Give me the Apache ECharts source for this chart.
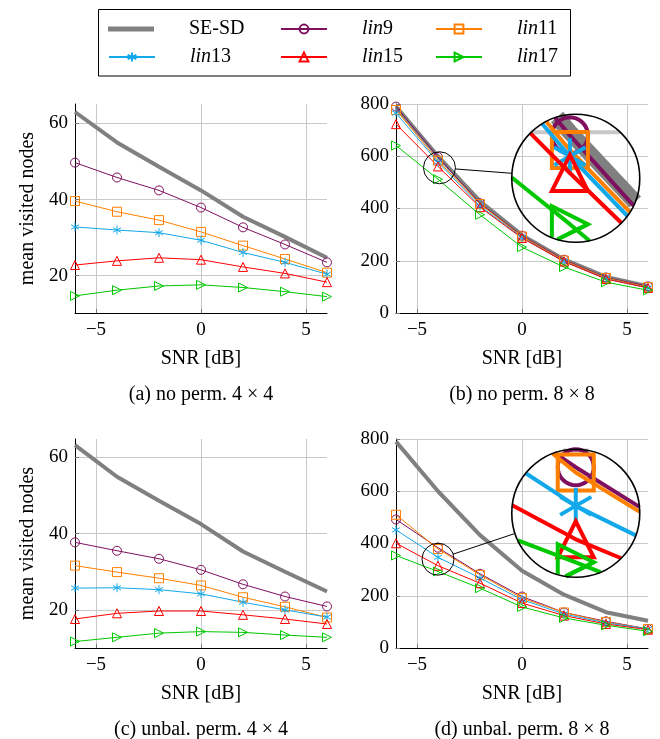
<!DOCTYPE html>
<html><head><meta charset="utf-8">
<script src="https://cdn.jsdelivr.net/npm/echarts@6/dist/echarts.min.js"></script>
<style>html,body{margin:0;padding:0;background:#fff}#c{width:660px;height:739px}</style>
</head><body><div id="c"></div>
<script>
// ---------------- data ----------------
const snr = [-6, -4, -2, 0, 2, 4, 6];
const seriesNames = ['SE-SD', 'lin9', 'lin11', 'lin13', 'lin15', 'lin17'];
const xTicks = [-5, 0, 5];
const yTicks4 = [20, 40, 60];
const yTicks8 = [0, 200, 400, 600, 800];
const captions = ['(a) no perm. 4 \u00d7 4', '(b) no perm. 8 \u00d7 8', '(c) unbal. perm. 4 \u00d7 4', '(d) unbal. perm. 8 \u00d7 8'];

// (a) no perm. 4x4
const a_SESD  = [63.0, 55.0, 48.6, 42.4, 35.5, 30.2, 24.7];
const a_lin9  = [49.7, 45.8, 42.4, 37.9, 32.7, 28.2, 23.5];
const a_lin11 = [39.6, 36.8, 34.6, 31.5, 27.9, 24.4, 20.8];
const a_lin13 = [32.8, 32.0, 31.3, 29.3, 26.1, 23.5, 20.4];
const a_lin15 = [22.8, 23.9, 24.7, 24.2, 22.3, 20.6, 18.3];
const a_lin17 = [14.7, 16.2, 17.3, 17.6, 16.9, 15.8, 14.5];
// (b) no perm. 8x8
const b_SESD  = [790, 600, 428, 298, 205, 138, 103];
const b_lin9  = [790, 597, 420, 296, 204, 136, 102];
const b_lin11 = [777, 583, 417, 293, 201, 134, 99];
const b_lin13 = [765, 577, 410, 289, 197, 131, 96];
const b_lin15 = [723, 561, 405, 287, 197, 130, 96];
const b_lin17 = [641, 512, 376, 252, 176, 118, 87];
// (c) unbal. perm. 4x4
const c_SESD  = [63.2, 54.9, 48.6, 42.5, 35.3, 30.0, 24.8];
const c_lin9  = [37.7, 35.5, 33.4, 30.5, 26.7, 23.5, 20.9];
const c_lin11 = [31.6, 29.9, 28.3, 26.4, 23.3, 20.8, 18.0];
const c_lin13 = [25.7, 25.8, 25.3, 24.2, 22.0, 20.0, 18.1];
const c_lin15 = [17.6, 19.1, 19.7, 19.7, 18.7, 17.6, 16.3];
const c_lin17 = [11.7, 12.8, 13.9, 14.3, 14.1, 13.4, 12.8];
// (d) unbal. perm. 8x8
const d_SESD  = [790, 600, 432, 296, 204, 137, 104];
const d_lin9  = [492, 384, 284, 197, 136, 102, 73];
const d_lin11 = [510, 379, 280, 191, 136, 99, 73];
const d_lin13 = [452, 347, 268, 185, 130, 96, 73];
const d_lin15 = [401, 315, 248, 172, 124, 92, 70];
const d_lin17 = [354, 293, 229, 157, 115, 87, 64];

// ---------------- styles / layout ----------------
const FONT = '"Liberation Serif", "DejaVu Serif", serif';
const colors = ['#808080', '#7f1060', '#ff8000', '#12a8ea', '#ff0000', '#00c800'];
const widths = [4, 1, 1, 1, 1, 1];
const ASTER = 'path://M0,-1L0,1M-0.866,-0.5L0.866,0.5M-0.866,0.5L0.866,-0.5';
const symbols = ['none', 'circle', 'rect', ASTER, 'triangle', 'triangle'];
const symRot = [0, 0, 0, 0, 0, -90];
const SYM = 9;
const GRIDC = '#c8c8c8';

const grids = [
  {left: 75, top: 104, width: 252, height: 209},
  {left: 396, top: 104, width: 252, height: 209},
  {left: 75, top: 439, width: 252, height: 209},
  {left: 396, top: 439, width: 252, height: 209}
];
const yRanges = [[10.2, 65.1], [0, 800], [10.0, 64.8], [0, 800]];
const panelData = [
  [a_SESD, a_lin9, a_lin11, a_lin13, a_lin15, a_lin17],
  [b_SESD, b_lin9, b_lin11, b_lin13, b_lin15, b_lin17],
  [c_SESD, c_lin9, c_lin11, c_lin13, c_lin15, c_lin17],
  [d_SESD, d_lin9, d_lin11, d_lin13, d_lin15, d_lin17]
];
// spy: small circle centre (data coords) -> magnified circle centre (data coords)
const spies = {1: {from: [-3.93, 556], to: [2.56, 516]}, 3: {from: [-4.0, 340], to: [2.56, 516]}};
const SPY_R = 16, SPY_K = 4;

const fmtX = v => (v < 0 ? '\u2212' + (-v) : String(v));

const xAxes = grids.map((g, i) => ({
  gridIndex: i, type: 'value', min: -6, max: 6,
  name: 'SNR [dB]', nameLocation: 'middle', nameGap: 36,
  nameTextStyle: {fontFamily: FONT, fontSize: 20, color: '#000'},
  axisLine: {show: true, onZero: false, lineStyle: {color: '#000', width: 1}},
  axisTick: {show: true, inside: true, length: 4, customValues: xTicks, lineStyle: {color: '#777'}},
  axisLabel: {customValues: xTicks, formatter: fmtX, fontFamily: FONT, fontSize: 19, color: '#000', margin: 8},
  splitLine: {show: true, lineStyle: {color: GRIDC, width: 1}}
}));
const yAxes = grids.map((g, i) => {
  const t = (i % 2 === 0) ? yTicks4 : yTicks8;
  return {
    gridIndex: i, type: 'value', min: yRanges[i][0], max: yRanges[i][1],
    name: (i % 2 === 0) ? 'mean visited nodes' : '', nameLocation: 'middle', nameGap: 37,
    nameTextStyle: {fontFamily: FONT, fontSize: 20, color: '#000'},
    axisLine: {show: true, onZero: false, lineStyle: {color: '#000', width: 1}},
    axisTick: {show: true, inside: true, length: 4, customValues: t, lineStyle: {color: '#777'}},
    axisLabel: {customValues: t, fontFamily: FONT, fontSize: 19, color: '#000', margin: 7},
    splitLine: {show: true, lineStyle: {color: GRIDC, width: 1}}
  };
});

const series = [];
panelData.forEach((sets, gi) => {
  sets.forEach((vals, si) => {
    series.push({
      type: 'line', name: seriesNames[si], xAxisIndex: gi, yAxisIndex: gi,
      data: snr.map((x, k) => [x, vals[k]]),
      symbol: symbols[si], symbolSize: SYM, symbolRotate: symRot[si], symbolKeepAspect: true,
      showSymbol: si !== 0, animation: false, silent: true,
      lineStyle: {color: colors[si], width: widths[si]},
      itemStyle: si === 0 ? {color: colors[si]} : {color: 'rgba(255,255,255,0)', borderColor: colors[si], borderWidth: 1},
      emphasis: {disabled: true}
    });
  });
});

// ----- magnifier (spy) drawn through the axes' own coordinate mapping -----
function clipSeg(p0, p1, c, R) {
  const dx = p1[0] - p0[0], dy = p1[1] - p0[1];
  const fx = p0[0] - c[0], fy = p0[1] - c[1];
  const a = dx * dx + dy * dy; if (a < 1e-9) return null;
  const b = fx * dx + fy * dy, cc = fx * fx + fy * fy - R * R;
  const disc = b * b - a * cc; if (disc <= 0) return null;
  const s = Math.sqrt(disc);
  const t0 = Math.max(0, (-b - s) / a), t1 = Math.min(1, (-b + s) / a);
  if (t1 <= t0) return null;
  return {t0, t1, q0: [p0[0] + t0 * dx, p0[1] + t0 * dy], q1: [p0[0] + t1 * dx, p0[1] + t1 * dy]};
}
function clipPolyline(pts, c, R) {
  const runs = []; let cur = null;
  for (let i = 0; i < pts.length - 1; i++) {
    const s = clipSeg(pts[i], pts[i + 1], c, R);
    if (!s) { if (cur) { runs.push(cur); cur = null; } continue; }
    if (cur && s.t0 === 0) cur.push(s.q1);
    else { if (cur) runs.push(cur); cur = [s.q0, s.q1]; }
    if (s.t1 < 1) { runs.push(cur); cur = null; }
  }
  if (cur) runs.push(cur);
  return runs;
}
function markerOutlines(si, h) {
  if (si === 1) { const p = []; for (let i = 0; i < 36; i++) { const a = i / 36 * 2 * Math.PI; p.push([h * Math.cos(a), h * Math.sin(a)]); } return [p.concat([p[0], p[1]])]; }
  if (si === 2) { const p = [[-h, -h], [h, -h], [h, h], [-h, h]]; return [p.concat([p[0], p[1]])]; }
  if (si === 3) return [[[0, -h], [0, h]], [[-0.866 * h, -0.5 * h], [0.866 * h, 0.5 * h]], [[-0.866 * h, 0.5 * h], [0.866 * h, -0.5 * h]]];
  if (si === 4) { const p = [[0, -h], [h, h], [-h, h]]; return [p.concat([p[0], p[1]])]; }
  if (si === 5) { const p = [[h, 0], [-h, h], [-h, -h]]; return [p.concat([p[0], p[1]])]; }
  return [];
}
function spySeries(gi) {
  const sp = spies[gi];
  const sets = panelData[gi];
  const yT = yTicks8;
  return {
    type: 'custom', xAxisIndex: gi, yAxisIndex: gi, z: 20, silent: true, clip: false, animation: false,
    data: [[sp.from[0], sp.from[1], sp.to[0], sp.to[1]]],
    renderItem: (params, api) => {
      const C = api.coord([api.value(0), api.value(1)]);
      const D = api.coord([api.value(2), api.value(3)]);
      const k = SPY_K, r = SPY_R, R = r * k;
      const T = p => [D[0] + k * (p[0] - C[0]), D[1] + k * (p[1] - C[1])];
      const ch = [];
      const add = (pts, style) => {
        clipPolyline(pts, D, R).forEach(run => ch.push({type: 'polyline', shape: {points: run}, style: Object.assign({fill: 'none', lineCap: 'butt'}, style)}));
      };
      yT.forEach(v => add([T(api.coord([-6, v])), T(api.coord([6, v]))], {stroke: GRIDC, lineWidth: k}));
      xTicks.forEach(v => add([T(api.coord([v, 0])), T(api.coord([v, 800]))], {stroke: GRIDC, lineWidth: k}));
      sets.forEach((vals, si) => {
        const pts = snr.map((x, i) => T(api.coord([x, vals[i]])));
        add(pts, {stroke: colors[si], lineWidth: widths[si] * k, lineJoin: 'round'});
        const outl = markerOutlines(si, SYM / 2 * k);
        pts.forEach(q => outl.forEach(o => add(o.map(p => [q[0] + p[0], q[1] + p[1]]), {stroke: colors[si], lineWidth: k, lineJoin: 'miter'})));
      });
      const dx = D[0] - C[0], dy = D[1] - C[1], L = Math.hypot(dx, dy), ux = dx / L, uy = dy / L;
      ch.push({type: 'line', shape: {x1: C[0] + ux * r, y1: C[1] + uy * r, x2: D[0] - ux * R, y2: D[1] - uy * R}, style: {stroke: '#000', lineWidth: 1}});
      ch.push({type: 'circle', shape: {cx: C[0], cy: C[1], r: r}, style: {fill: 'none', stroke: '#000', lineWidth: 1}});
      ch.push({type: 'circle', shape: {cx: D[0], cy: D[1], r: R}, style: {fill: 'none', stroke: '#000', lineWidth: 1.6}});
      return {type: 'group', children: ch};
    }
  };
}
series.push(spySeries(1), spySeries(3));

// ----- legend: six single-entry legends laid out as a 3x2 table -----
const legCols = [108, 280, 435];
const legRows = [29, 57];
const legends = seriesNames.map((n, i) => {
  const lg = {
    data: [n], selectedMode: false, padding: 0,
    left: legCols[i % 3], top: legRows[Math.floor(i / 3)] - 11,
    itemWidth: 46, itemHeight: 11,
    formatter: nm => nm === 'SE-SD' ? 'SE-SD' : '{i|lin}{n|' + nm.slice(3) + '}',
    textStyle: {
      fontFamily: FONT, fontSize: 20, color: '#000', lineHeight: 22, padding: [0, 0, 0, 30],
      rich: {i: {fontFamily: FONT, fontSize: 20, fontStyle: 'italic', color: '#000'}, n: {fontFamily: FONT, fontSize: 20, color: '#000'}}
    }
  };
  if (i === 0) { lg.icon = 'rect'; lg.itemHeight = 5; lg.itemStyle = {color: colors[0], borderWidth: 0}; }
  return lg;
});

const graphic = [
  {type: 'rect', shape: {x: 98.5, y: 9.5, width: 472, height: 66.5}, style: {fill: 'none', stroke: '#000', lineWidth: 1}, silent: true}
];
captions.forEach((t, i) => {
  const g = grids[i];
  graphic.push({type: 'text', x: g.left + g.width / 2, y: g.top + g.height + 82, silent: true,
    style: {text: t, fontFamily: FONT, fontSize: 20, fill: '#000', align: 'center', verticalAlign: 'middle'}});
});

const chart = echarts.init(document.getElementById('c'), null, {renderer: 'canvas'});
chart.setOption({
  animation: false, backgroundColor: '#fff',
  grid: grids, xAxis: xAxes, yAxis: yAxes, series, legend: legends, graphic
});
</script></body></html>
